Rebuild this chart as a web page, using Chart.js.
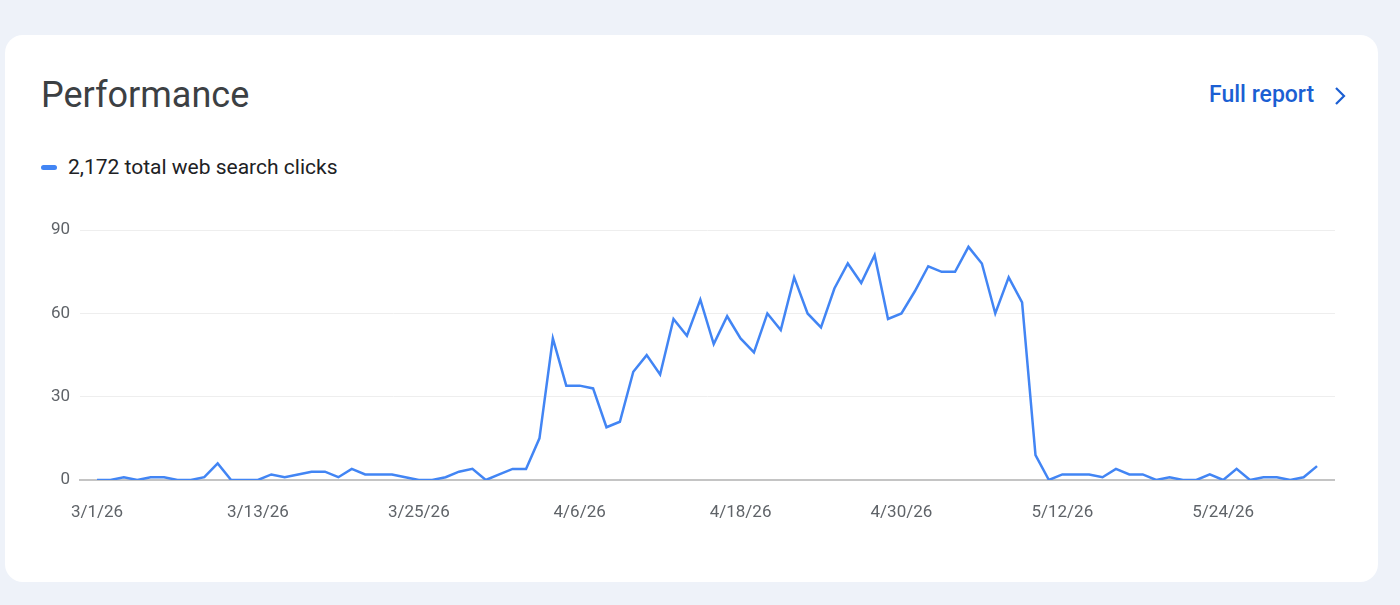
<!DOCTYPE html>
<html>
<head>
<meta charset="utf-8">
<script src="https://cdn.jsdelivr.net/npm/chart.js@4/dist/chart.umd.min.js"></script>
<style>
  html, body { margin: 0; padding: 0; }
  body { width: 1400px; height: 605px; background: #eef2f9; font-family: Roboto, "Noto Sans", sans-serif; position: relative; overflow: hidden; }
  .card { position: absolute; left: 5px; top: 35px; width: 1373px; height: 547px; background: #fff; border-radius: 18px; }
  .titulo { position: absolute; left: 41px; top: 74px; font-size: 36px; color: #3c4043; font-weight: 400; }
  .relatorio { position: absolute; left: 1209px; top: 81px; font-size: 23px; font-weight: 500; color: #1b5fd3; }
  .seta { position: absolute; left: 1330px; top: 85px; }
  .legenda { position: absolute; left: 41px; top: 155px; font-size: 21px; color: #202124; display: flex; align-items: center; }
  .legenda i { display: inline-block; width: 16px; height: 5px; border-radius: 3px; background: #4285f4; margin-right: 11px; }
  .grafico { position: absolute; left: 40px; top: 210px; width: 1295px; height: 330px; }
</style>
</head>
<body>
<div class="card"></div>
<div class="titulo">Performance</div>
<div class="relatorio">Full report</div>
<svg class="seta" width="20" height="22" viewBox="0 0 20 22"><polyline points="6,3 14,11 6,19" fill="none" stroke="#1b5fd3" stroke-width="2.2"/></svg>
<div class="legenda"><i></i>2,172 total web search clicks</div>
<div class="grafico"><canvas id="grafico"></canvas></div>
<script>
// Dados: cliques diarios de 3/1/26 a 5/31/26
const inicio = new Date(2026, 2, 1);
const totalDias = 92;
const cliques = [
  0, 0, 1, 0, 1, 1, 0, 0, 1, 6,
  0, 0, 0, 2, 1, 2, 3, 3, 1, 4,
  2, 2, 2, 1, 0, 0, 1, 3, 4, 0,
  2, 4, 4, 15, 51, 34, 34, 33, 19, 21,
  39, 45, 38, 58, 52, 65, 49, 59, 51, 46,
  60, 54, 73, 60, 55, 69, 78, 71, 81, 58,
  60, 68, 77, 75, 75, 84, 78, 60, 73, 64,
  9, 0, 2, 2, 2, 1, 4, 2, 2, 0,
  1, 0, 0, 2, 0, 4, 0, 1, 1, 0,
  1, 5
];
const yTicks = [0, 30, 60, 90];
const intervaloTicks = 12;

// Datas (categorias)
const datas = [];
for (let i = 0; i < totalDias; i++) {
    const d = new Date(inicio);
    d.setDate(inicio.getDate() + i);
    datas.push(`${d.getMonth() + 1}/${d.getDate()}/${String(d.getFullYear()).slice(2)}`);
}

const pontos = cliques.map((v, i) => ({ x: i, y: v }));

const ctx = document.getElementById('grafico').getContext('2d');
new Chart(ctx, {
    type: 'line',
    data: {
        datasets: [{
            label: 'Clicks',
            data: pontos,
            borderColor: '#4285f4',
            borderWidth: 2.5,
            pointRadius: 0,
            tension: 0,
            fill: false
        }]
    },
    options: {
        responsive: true,
        maintainAspectRatio: false,
        animation: false,
        layout: { padding: { top: 20, right: 0, left: 0, bottom: 0 } },
        plugins: { legend: { display: false }, tooltip: { enabled: false } },
        scales: {
            x: {
                type: 'linear',
                min: -1.27,
                max: 92.34,
                afterBuildTicks: s => {
                    const t = [];
                    for (let i = 0; i < totalDias; i += intervaloTicks) t.push({ value: i });
                    s.ticks = t;
                },
                afterFit: s => { s.height = 60; },
                grid: { display: false, drawTicks: false },
                border: { display: true, color: '#c4c4c4', width: 2 },
                ticks: {
                    padding: 23,
                    color: '#5f6368',
                    font: { size: 17, family: 'Roboto' },
                    maxRotation: 0,
                    autoSkip: false,
                    callback: v => datas[v] || ''
                }
            },
            y: {
                min: 0,
                max: 90,
                afterBuildTicks: s => { s.ticks = yTicks.map(v => ({ value: v })); },
                afterFit: s => { s.width = 40; },
                grid: {
                    drawTicks: false,
                    color: c => c.tick && c.tick.value === 0 ? 'rgba(0,0,0,0)' : '#eeeeee',
                    lineWidth: 1
                },
                border: { display: false },
                ticks: {
                    padding: 10,
                    color: '#5f6368',
                    font: { size: 17, family: 'Roboto' }
                }
            }
        }
    }
});
</script>
</body>
</html>
